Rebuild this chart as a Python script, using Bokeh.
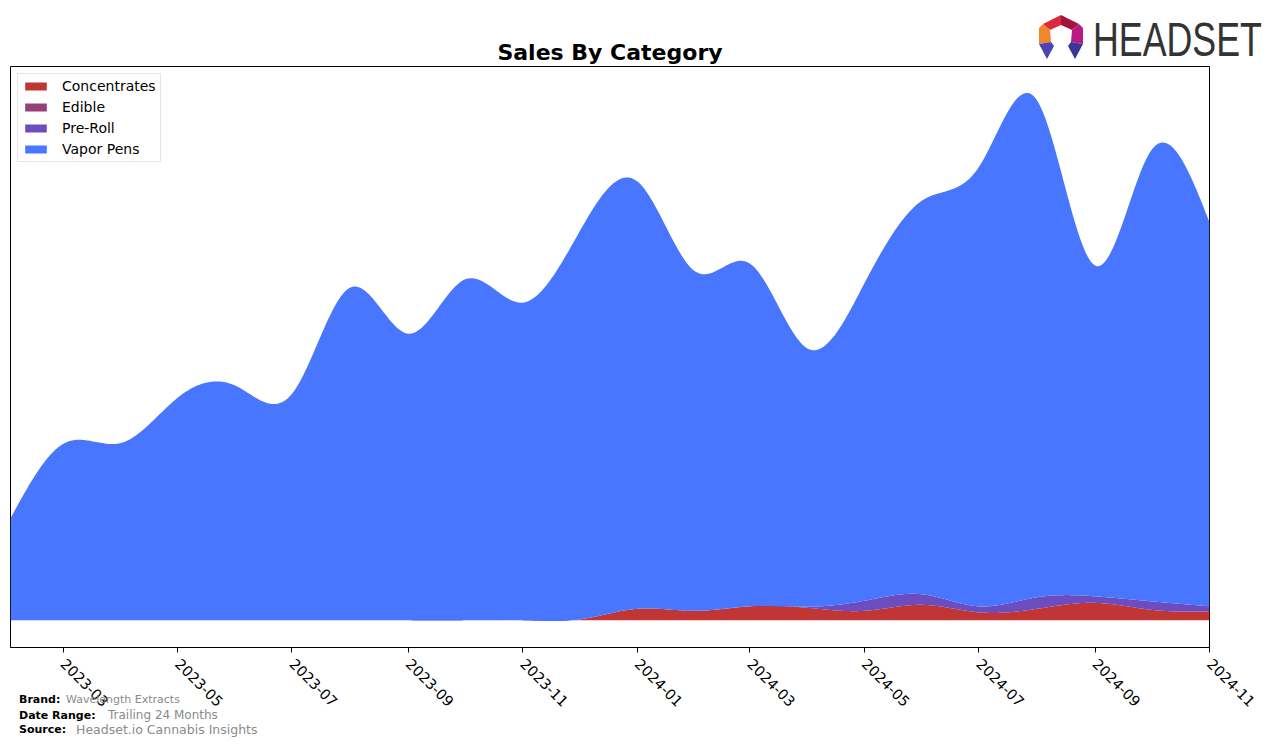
import math
import numpy as np
import pandas as pd
from bokeh.plotting import figure
from bokeh.layouts import column
from bokeh.models import Range1d, FixedTicker, Div
from bokeh.embed import file_html
from bokeh.resources import INLINE

# ---------------- data ----------------
months = ["2023-02", "2023-03", "2023-04", "2023-05", "2023-06", "2023-07",
          "2023-08", "2023-09", "2023-10", "2023-11", "2023-12", "2024-01",
          "2024-02", "2024-03", "2024-04", "2024-05", "2024-06", "2024-07",
          "2024-08", "2024-09", "2024-10", "2024-11"]
concentrates = [0, 0, 0, 0, 0, 0, 0, 0, 0, 0, 0.8, 11.5,
                9.5, 14.0, 12.5, 9.5, 15.5, 8.0, 11.5, 17.5, 10.5, 9.0]
edible = [0, 0, 0, 0, 0, 0, 0, 0, 0, 0, 0, 0,
          0, 0, 0, 0, 0, 0, 0, 0, 0, 0]
pre_roll = [0, 0, 0, 0, 0, 0, 0, 0, 0, 0, 0, 0,
            0, 0, 1.0, 10.0, 10.5, 6.0, 11.5, 6.5, 8.5, 5.0]
vapor_pens = [102, 176, 177, 222, 234, 226, 332, 286, 340, 317, 386.2, 426.5,
              338.5, 342.0, 257.5, 316.5, 393.0, 438.0, 496.0, 330.0, 450.0, 383.0]
tick_labels = ["2023-03", "2023-05", "2023-07", "2023-09", "2023-11", "2024-01",
               "2024-03", "2024-05", "2024-07", "2024-09", "2024-11"]

series_names = ["Concentrates", "Edible", "Pre-Roll", "Vapor Pens"]
series_colors = ["#c23535", "#953e77", "#6c4cbf", "#4876ff"]
series_values = [concentrates, edible, pre_roll, vapor_pens]

brand = "Wavelength Extracts"
date_range = "Trailing 24 Months"
source = "Headset.io Cannabis Insights"

# ---------------- smoothing (natural cubic spline, drawing only) ----------------
def spline(xk, yk, xs):
    xk = np.asarray(xk, float)
    yk = np.asarray(yk, float)
    n = len(xk)
    h = np.diff(xk)
    A = np.zeros((n, n))
    b = np.zeros(n)
    A[0, 0] = 1.0
    A[-1, -1] = 1.0
    for i in range(1, n - 1):
        A[i, i - 1] = h[i - 1]
        A[i, i] = 2 * (h[i - 1] + h[i])
        A[i, i + 1] = h[i]
        b[i] = 6 * ((yk[i + 1] - yk[i]) / h[i] - (yk[i] - yk[i - 1]) / h[i - 1])
    M = np.linalg.solve(A, b)
    idx = np.clip(np.searchsorted(xk, xs, side="right") - 1, 0, n - 2)
    x0 = xk[idx]; x1 = xk[idx + 1]; hh = x1 - x0
    return (M[idx] * (x1 - xs) ** 3 / (6 * hh) + M[idx + 1] * (xs - x0) ** 3 / (6 * hh)
            + (yk[idx] - M[idx] * hh ** 2 / 6) * (x1 - xs) / hh
            + (yk[idx + 1] - M[idx + 1] * hh ** 2 / 6) * (xs - x0) / hh)

dates = pd.to_datetime(months, format="%Y-%m")
t0 = dates[0]
xk = np.array([(d - t0).days for d in dates], float)
xs = np.linspace(xk[0], xk[-1], 800)
x_dt = (t0 + pd.to_timedelta(xs, unit="D"))

lower = np.zeros_like(xs)
layers = []
for vals in series_values:
    upper = lower + spline(xk, vals, xs)
    layers.append((lower.copy(), upper.copy()))
    lower = upper

ymin = min(l.min() for l, u in layers)
ymax = max(u.max() for l, u in layers)
pad = 0.05 * (ymax - ymin)

# ---------------- figure ----------------
p = figure(width=1276, height=746, output_backend="svg", toolbar_location=None,
           x_axis_type="datetime",
           x_range=Range1d(dates[0], dates[-1]),
           y_range=Range1d(ymin - pad, ymax + pad),
           min_border_left=10, min_border_right=67, min_border_top=66,
           min_border_bottom=99)
p.background_fill_color = "white"
p.border_fill_color = "white"
p.grid.visible = False
p.yaxis.visible = False
p.outline_line_color = "black"
p.outline_line_width = 1
p.outline_line_alpha = 1

for (lo, up), name, col in zip(layers, series_names, series_colors):
    p.varea(x=x_dt, y1=lo, y2=up, fill_color=col, legend_label=name)

# title
p.title.text = "Sales By Category"
p.title.align = "center"
p.title.text_font = "DejaVu Sans"
p.title.text_font_size = "22px"
p.title.text_font_style = "bold"
p.title.text_color = "black"
p.title.standoff = 4

# x axis
tick_dates = pd.to_datetime(tick_labels, format="%Y-%m")
tick_ms = [int(d.value // 10**6) for d in tick_dates]
p.xaxis.ticker = FixedTicker(ticks=tick_ms)
p.xaxis.major_label_overrides = {ms: lab for ms, lab in zip(tick_ms, tick_labels)}
p.xaxis.major_label_orientation = -math.pi / 4
p.xaxis.major_label_text_font = "DejaVu Sans"
p.xaxis.major_label_text_font_size = "14.5px"
p.xaxis.major_label_text_color = "black"
p.xaxis.major_label_standoff = 9
p.xaxis.major_tick_out = 5
p.xaxis.major_tick_in = 0
p.xaxis.minor_tick_out = 0
p.xaxis.minor_tick_in = 0
p.xaxis.axis_line_color = "black"
p.xaxis.major_tick_line_color = "black"

# legend
lg = p.legend[0]
lg.location = "top_left"
lg.margin = 7
lg.padding = 4
lg.spacing = 5
lg.glyph_width = 27
lg.glyph_height = 10
lg.label_height = 15
lg.label_standoff = 13
lg.label_text_font = "DejaVu Sans"
lg.label_text_font_size = "14px"
lg.label_text_color = "black"
lg.border_line_color = "#cccccc"
lg.border_line_width = 1
lg.background_fill_alpha = 0.8

# ---------------- overlay: logo and footer (outside the plot frame) ----------------
logo_parts = [
    ("1043,24 1061,15 1061,25 1050,30", "#dc2a3c"),
    ("1061,15 1079,24 1072,30 1061,25", "#a3153f"),
    ("1039,28 1043,24 1050,30 1051,42 1039,44", "#f2862a"),
    ("1079,24 1083,28 1083,44 1071,42 1072,30", "#b81c84"),
    ("1039,44 1051,42 1054,46 1047,59", "#4c44b0"),
    ("1083,44 1071,42 1068,46 1075,59", "#3a3596"),
]
svg = ['<svg xmlns="http://www.w3.org/2000/svg" width="1276" height="746" '
       'style="position:absolute;left:0;top:0">']
for pts, col in logo_parts:
    svg.append(f'<polygon points="{pts}" fill="{col}"/>')
svg.append('<text transform="translate(1093,56) scale(0.73,1)" x="0" y="0" '
           'style="font-family:\'Liberation Sans\';font-size:49px;fill:#333333">HEADSET</text>')

def t(x, y, s, size, bold=False, color="black"):
    w = "bold" if bold else "normal"
    return (f'<text x="{x}" y="{y}" dominant-baseline="central" '
            f'style="font-family:\'DejaVu Sans\';font-size:{size}px;font-weight:{w};'
            f'fill:{color}">{s}</text>')

svg.append(t(19, 699, "Brand:", 11, True))
svg.append(t(66, 699, brand, 11, False, "#8a8a8a"))
svg.append(t(19, 715, "Date Range:", 11, True))
svg.append(t(108, 715, date_range, 12, False, "#8a8a8a"))
svg.append(t(19, 729, "Source:", 11, True))
svg.append(t(76, 729, source, 12.5, False, "#8a8a8a"))
svg.append('</svg>')

overlay = Div(text='<div style="position:relative;width:1276px;height:746px;pointer-events:none">'
              + "".join(svg) + '</div>',
              width=1276, height=746, margin=(-746, 0, 0, 0))

layout = column(p, overlay, spacing=0)

open("out.html", "w").write(file_html(layout, INLINE))
